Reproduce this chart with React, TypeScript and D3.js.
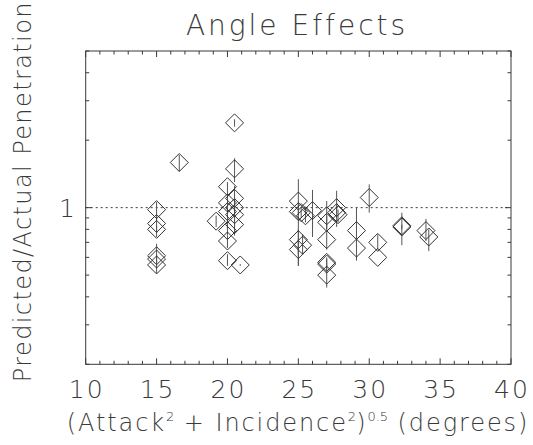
import React from "react";
import * as d3 from "d3";

// Combined angle (degrees) for each test
const angle = [
  15.0, 15.0, 15.0, 15.0, 15.0, 15.0, 16.6, 19.2, 20.0, 20.0, 20.0, 20.0,
  20.0, 20.0, 20.5, 20.5, 20.5, 20.5, 20.5, 20.5, 20.9, 25.0, 25.0, 25.0,
  25.0, 25.2, 25.3, 25.5, 26.0, 27.0, 27.0, 27.0, 27.0, 27.0, 27.0, 27.7,
  27.7, 27.8, 29.1, 29.1, 30.0, 30.6, 30.6, 32.3, 32.3, 34.0, 34.2,
];
// Predicted / actual penetration ratio
const ratio = [
  0.98, 0.85, 0.8, 0.61, 0.59, 0.555, 1.59, 0.87, 1.24, 1.05, 0.96, 0.79,
  0.71, 0.58, 2.39, 1.49, 1.1, 1.0, 0.93, 0.84, 0.555, 1.07, 0.96, 0.72,
  0.65, 0.95, 0.68, 0.92, 0.97, 0.92, 0.86, 0.72, 0.57, 0.56, 0.5, 1.0,
  0.95, 0.93, 0.79, 0.66, 1.11, 0.7, 0.6, 0.83, 0.82, 0.79, 0.74,
];
// Error bar extents
const ratioLo = [
  0.88, 0.74, 0.77, 0.55, 0.56, 0.51, 1.45, 0.82, 1.1, 0.95, 0.8, 0.75,
  0.66, 0.55, 2.3, 1.3, 0.92, 0.9, 0.8, 0.75, 0.55, 0.92, 0.55, 0.62,
  0.55, 0.9, 0.62, 0.86, 0.74, 0.8, 0.8, 0.65, 0.54, 0.53, 0.44, 0.82,
  0.9, 0.86, 0.7, 0.58, 0.95, 0.65, 0.6, 0.68, 0.8, 0.71, 0.64,
];
const ratioHi = [
  1.06, 0.92, 0.83, 0.69, 0.62, 0.6, 1.72, 0.92, 1.3, 1.12, 1.0, 0.83,
  0.75, 0.62, 2.48, 1.66, 1.25, 1.1, 1.0, 0.9, 0.56, 1.34, 1.05, 0.8,
  0.72, 1.0, 0.76, 0.98, 1.2, 1.07, 0.92, 0.8, 0.6, 0.59, 0.55, 1.19,
  1.02, 0.98, 1.0, 0.74, 1.27, 0.76, 0.6, 0.95, 0.84, 0.89, 0.8,
];

const xTickValues = [10, 15, 20, 25, 30, 35, 40];
const xMinorTicks = d3.range(10, 41, 1);
const yMajorTicks = [1];
const yMinorTicks = [0.2, 0.3, 0.4, 0.5, 0.6, 0.7, 0.8, 0.9, 2, 3, 4, 5];

const W = 533;
const H = 445;
const left = 85.7;
const right = 511;
const top = 51;
const bottom = 364.3;

const font = "'DejaVu Sans', sans-serif";
const ink = "#3a3a3a";

export default function App() {
  const x = d3.scaleLinear().domain([10, 40]).range([left, right]);
  const y = d3.scaleLog().domain([0.2, 5]).range([bottom, top]);
  const r = 9;

  const diamond = (cx: number, cy: number) =>
    `M${cx},${cy - r}L${cx + r},${cy}L${cx},${cy + r}L${cx - r},${cy}Z`;

  return (
    <svg
      width={W}
      height={H}
      style={{ position: "absolute", left: 0, top: 0, background: "#fff" }}
    >
      {/* title */}
      <text
        x={297}
        y={35}
        textAnchor="middle"
        fontFamily={font}
        fontWeight={200}
        fontSize={28}
        letterSpacing={3}
        fill={ink}
      >
        Angle Effects
      </text>

      {/* frame */}
      <rect
        x={left}
        y={top}
        width={right - left}
        height={bottom - top}
        fill="none"
        stroke={ink}
        strokeWidth={1}
      />

      {/* x ticks, bottom and top */}
      {xMinorTicks.map((t) => {
        const len = xTickValues.includes(t) ? 6 : 3.5;
        return (
          <g key={"xt" + t} stroke={ink} strokeWidth={1}>
            <line x1={x(t)} x2={x(t)} y1={bottom} y2={bottom - len} />
            <line x1={x(t)} x2={x(t)} y1={top} y2={top + len} />
          </g>
        );
      })}
      {xTickValues.map((t) => (
        <text
          key={"xl" + t}
          x={x(t) + 1}
          y={398}
          textAnchor="middle"
          fontFamily={font}
          fontWeight={200}
          fontSize={25}
          letterSpacing={2}
          fill={ink}
        >
          {t}
        </text>
      ))}

      {/* y ticks, left and right */}
      {[...yMajorTicks, ...yMinorTicks].map((t) => {
        const len = yMajorTicks.includes(t) ? 6 : 3.5;
        return (
          <g key={"yt" + t} stroke={ink} strokeWidth={1}>
            <line x1={left} x2={left + len} y1={y(t)} y2={y(t)} />
            <line x1={right} x2={right - len} y1={y(t)} y2={y(t)} />
          </g>
        );
      })}
      {yMajorTicks.map((t) => (
        <text
          key={"yl" + t}
          x={75}
          y={y(t) + 9}
          textAnchor="end"
          fontFamily={font}
          fontWeight={200}
          fontSize={25}
          fill={ink}
        >
          {t}
        </text>
      ))}

      {/* reference line at ratio 1 */}
      <line
        x1={left}
        x2={right}
        y1={y(1)}
        y2={y(1)}
        stroke={ink}
        strokeWidth={1}
        strokeDasharray="2,3"
      />

      {/* error bars */}
      {angle.map((a, i) => (
        <line
          key={"e" + i}
          x1={x(a)}
          x2={x(a)}
          y1={y(ratioLo[i])}
          y2={y(ratioHi[i])}
          stroke="#555"
          strokeWidth={1}
        />
      ))}

      {/* data points */}
      {angle.map((a, i) => (
        <path
          key={"p" + i}
          d={diamond(x(a), y(ratio[i]))}
          fill="none"
          stroke="#333"
          strokeWidth={1}
        />
      ))}

      {/* axis titles */}
      <text
        x={298}
        y={431}
        textAnchor="middle"
        fontFamily={font}
        fontWeight={200}
        fontSize={24}
        letterSpacing={1.9}
        fill={ink}
      >
        (Attack
        <tspan fontSize={13} dy={-10} letterSpacing={0}>2</tspan>
        <tspan dy={10}> + Incidence</tspan>
        <tspan fontSize={13} dy={-10} letterSpacing={0}>2</tspan>
        <tspan dy={10}>)</tspan>
        <tspan fontSize={13} dy={-10} letterSpacing={0}>0.5</tspan>
        <tspan dy={10}> (degrees)</tspan>
      </text>
      <text
        transform={`translate(31,${(top + bottom) / 2 - 16}) rotate(-90)`}
        textAnchor="middle"
        fontFamily={font}
        fontWeight={200}
        fontSize={24}
        letterSpacing={1.4}
        fill={ink}
      >
        Predicted/Actual Penetration
      </text>
    </svg>
  );
}
